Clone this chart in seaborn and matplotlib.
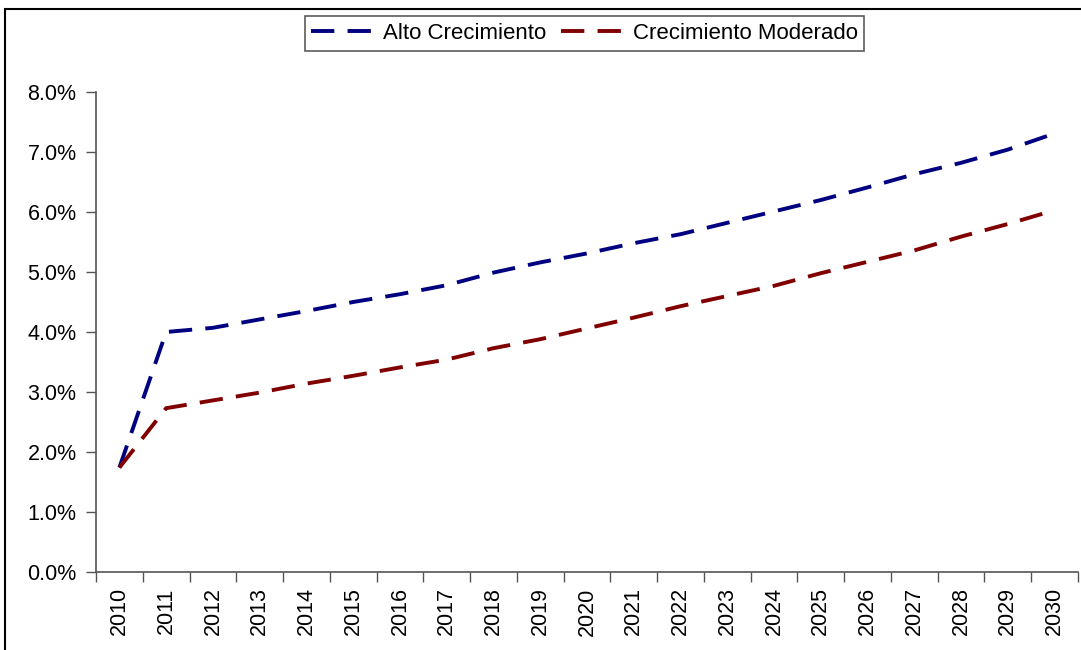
import matplotlib
matplotlib.use("Agg")
import matplotlib.pyplot as plt
from matplotlib.patches import Rectangle
from matplotlib.ticker import FuncFormatter, FixedLocator
import seaborn as sns
import pandas as pd

years = [str(y) for y in range(2010, 2031)]
alto = [1.74, 4.00, 4.07, 4.21, 4.35, 4.50, 4.63, 4.78, 4.99, 5.16, 5.31,
        5.48, 5.63, 5.82, 6.01, 6.20, 6.41, 6.63, 6.82, 7.04, 7.31]
moderado = [1.74, 2.73, 2.86, 2.99, 3.14, 3.27, 3.41, 3.54, 3.73, 3.88, 4.06,
            4.24, 4.43, 4.60, 4.77, 4.98, 5.17, 5.36, 5.59, 5.80, 6.03]
series_names = ["Alto Crecimiento", "Crecimiento Moderado"]
colors = ["#000080", "#800000"]

df = pd.DataFrame({
    "year": years * 2,
    "pos": list(range(len(years))) * 2,
    "value": alto + moderado,
    "serie": [series_names[0]] * len(years) + [series_names[1]] * len(years),
})

sns.set_theme(style="white")
plt.rcParams["font.family"] = ["Liberation Sans", "DejaVu Sans"]
plt.rcParams["text.color"] = "black"
plt.rcParams["xtick.color"] = "black"
plt.rcParams["ytick.color"] = "black"

fig = plt.figure(figsize=(10.81, 6.5), dpi=100)
ax = fig.add_axes([96 / 1081, 78 / 650, 982 / 1081, 480 / 650])

dash = (6.0, 3.4)
sns.lineplot(data=df, x="pos", y="value", hue="serie", style="serie",
             palette=colors, dashes=[dash, dash], linewidth=2.8, ax=ax,
             legend=False)

ax.set_xlim(-0.5, len(years) - 0.5)
ax.set_ylim(0, 8)
ax.set_xlabel("")
ax.set_ylabel("")

# category labels at centres, tick marks on category boundaries
ax.xaxis.set_major_locator(FixedLocator(range(len(years))))
ax.set_xticklabels(years, rotation=90, fontsize=15.5)
ax.xaxis.set_minor_locator(FixedLocator([i - 0.5 for i in range(len(years) + 1)]))
ax.tick_params(axis="x", which="major", length=0, pad=11)
ax.tick_params(axis="x", which="minor", length=7, width=1.0, color="#555555",
               direction="out", bottom=True)
ax.set_yticks(range(0, 9))
ax.yaxis.set_major_formatter(FuncFormatter(lambda v, _: f"{v:.1f}%"))
ax.tick_params(axis="y", which="major", length=7, width=1.0, color="#555555",
               direction="out", left=True, labelsize=15.5, pad=7)

for side in ["top", "right"]:
    ax.spines[side].set_visible(False)
for side in ["left", "bottom"]:
    ax.spines[side].set_color("#555555")
    ax.spines[side].set_linewidth(1.2)

handles = [plt.Line2D([], [], color=c, linewidth=2.8, dashes=dash) for c in colors]
leg = fig.legend(handles, series_names, loc="center",
                 bbox_to_anchor=(584.5 / 1081, 1 - 33.5 / 650), ncol=2,
                 fontsize=16, frameon=True, fancybox=False, handlelength=2.7,
                 handletextpad=0.5, columnspacing=0.7, borderpad=0.3,
                 borderaxespad=0)
leg.get_frame().set_edgecolor("#333333")
leg.get_frame().set_linewidth(1.2)

# outer chart border
fig.add_artist(Rectangle((5 / 1081, -0.2), 1.2, 1.2 - 9 / 650,
                         transform=fig.transFigure, fill=False,
                         edgecolor="black", linewidth=1.5))

fig.savefig("out.png", dpi=100)
